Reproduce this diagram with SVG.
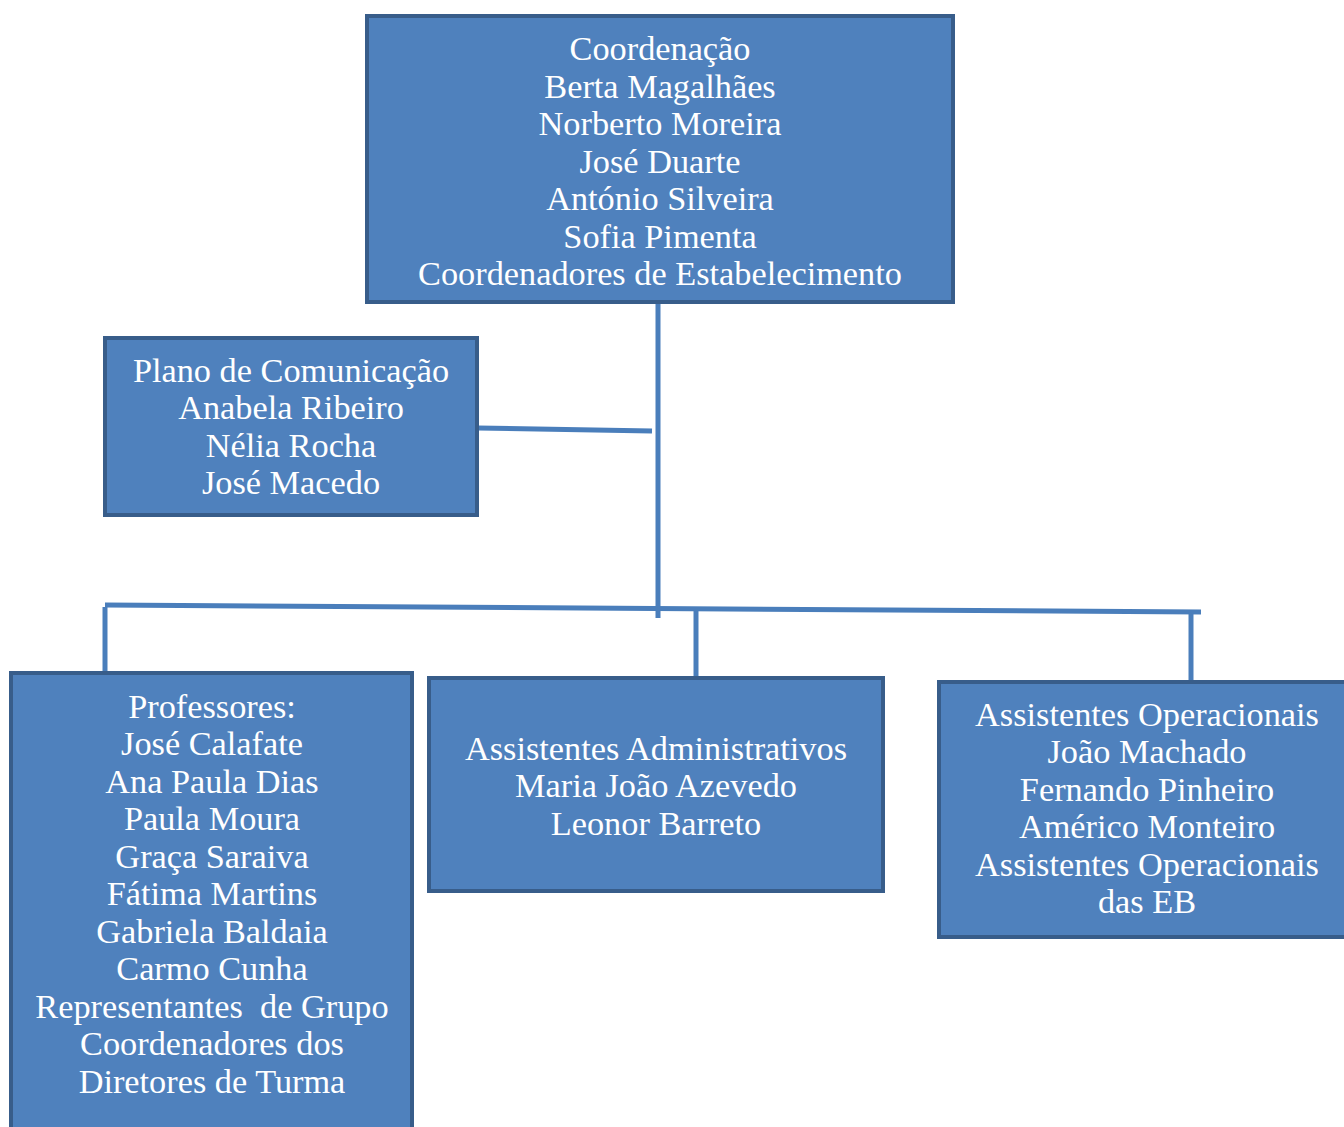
<svg xmlns="http://www.w3.org/2000/svg" width="1344" height="1127" viewBox="0 0 1344 1127">
<style>
.box{fill:#4F81BD;stroke:#385D8A;stroke-width:4}
.t{font-family:"Liberation Serif","DejaVu Serif",serif;font-size:34.3px;fill:#FFFFFF;text-anchor:middle}
.c{stroke:#4A7EBB;stroke-width:5;fill:none}
</style>
<rect width="1344" height="1127" fill="#FFFFFF"/>
<g id="connectors">
<line class="c" x1="658" y1="303" x2="658" y2="618"/>
<line class="c" x1="478" y1="428" x2="652" y2="431"/>
<line class="c" x1="105" y1="605" x2="1201" y2="612"/>
<line class="c" x1="105" y1="607" x2="105" y2="672"/>
<line class="c" x1="696" y1="610" x2="696" y2="677"/>
<line class="c" x1="1191" y1="612" x2="1191" y2="680"/>
</g>
<g id="coordenacao">
<rect class="box" x="367" y="16" width="586" height="286"/>
<text class="t" x="660" y="60">Coordenação</text>
<text class="t" x="660" y="98">Berta Magalhães</text>
<text class="t" x="660" y="135">Norberto Moreira</text>
<text class="t" x="660" y="173">José Duarte</text>
<text class="t" x="660" y="210">António Silveira</text>
<text class="t" x="660" y="248">Sofia Pimenta</text>
<text class="t" x="660" y="285">Coordenadores de Estabelecimento</text>
</g>
<g id="plano">
<rect class="box" x="105" y="338" width="372" height="177"/>
<text class="t" x="291" y="382">Plano de Comunicação</text>
<text class="t" x="291" y="419">Anabela Ribeiro</text>
<text class="t" x="291" y="457">Nélia Rocha</text>
<text class="t" x="291" y="494">José Macedo</text>
</g>
<g id="professores">
<rect class="box" x="11" y="673" width="401" height="470"/>
<text class="t" x="212" y="718">Professores:</text>
<text class="t" x="212" y="755">José Calafate</text>
<text class="t" x="212" y="793">Ana Paula Dias</text>
<text class="t" x="212" y="830">Paula Moura</text>
<text class="t" x="212" y="868">Graça Saraiva</text>
<text class="t" x="212" y="905">Fátima Martins</text>
<text class="t" x="212" y="943">Gabriela Baldaia</text>
<text class="t" x="212" y="980">Carmo Cunha</text>
<text class="t" x="212" y="1018" xml:space="preserve">Representantes  de Grupo</text>
<text class="t" x="212" y="1055">Coordenadores dos</text>
<text class="t" x="212" y="1093">Diretores de Turma</text>
</g>
<g id="administrativos">
<rect class="box" x="429" y="678" width="454" height="213"/>
<text class="t" x="656" y="760">Assistentes Administrativos</text>
<text class="t" x="656" y="797">Maria João Azevedo</text>
<text class="t" x="656" y="835">Leonor Barreto</text>
</g>
<g id="operacionais">
<rect class="box" x="939" y="682" width="420" height="255"/>
<text class="t" x="1147" y="726">Assistentes Operacionais</text>
<text class="t" x="1147" y="763">João Machado</text>
<text class="t" x="1147" y="801">Fernando Pinheiro</text>
<text class="t" x="1147" y="838">Américo Monteiro</text>
<text class="t" x="1147" y="876">Assistentes Operacionais</text>
<text class="t" x="1147" y="913">das EB</text>
</g>
</svg>
